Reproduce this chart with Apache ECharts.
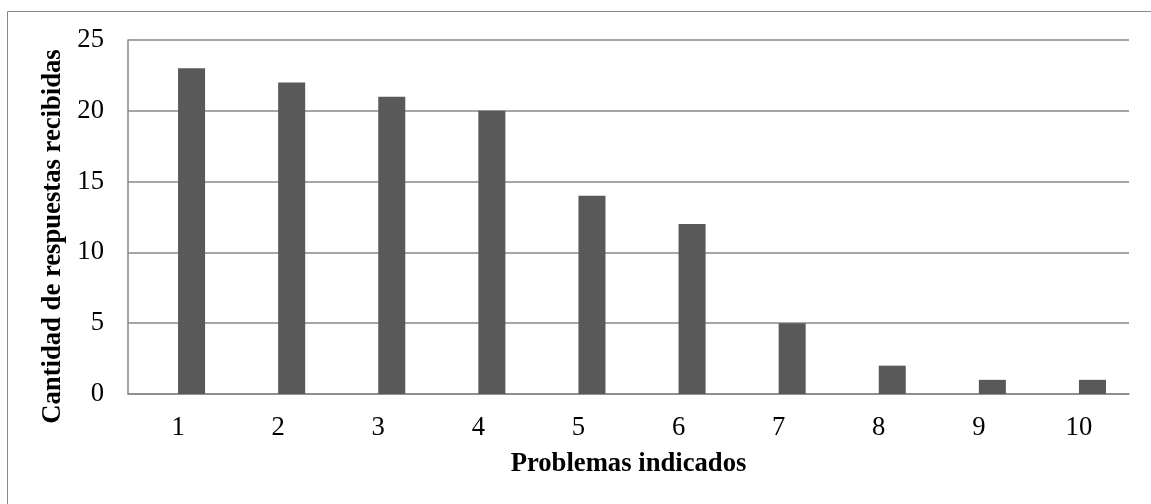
<!DOCTYPE html>
<html>
<head>
<meta charset="utf-8">
<script src="https://cdn.jsdelivr.net/npm/echarts@6/dist/echarts.min.js"></script>
<style>html,body{margin:0;padding:0;background:#fff;}#c{width:1151px;height:504px;}</style>
</head>
<body>
<div id="c"></div>
<script>
const categories = ['1','2','3','4','5','6','7','8','9','10'];
const respuestas = [23, 22, 21, 20, 14, 12, 5, 2, 1, 1];
const emptySeries = [null, null, null, null, null, null, null, null, null, null];
const yTicks = [0, 5, 10, 15, 20, 25];

const chart = echarts.init(document.getElementById('c'), null, {renderer: 'canvas'});
const font = '"Liberation Serif", "Times New Roman", serif';
const fs = 26.67;
chart.setOption({
  animation: false,
  backgroundColor: '#fff',
  graphic: [{
    type: 'rect', silent: true,
    shape: {x: 7.5, y: 11.5, width: 1200, height: 600},
    style: {fill: 'none', stroke: '#888', lineWidth: 1}
  }],
  grid: {left: 128, right: 22, top: 40, bottom: 110, containLabel: false},
  xAxis: {
    type: 'category',
    data: categories,
    name: 'Problemas indicados',
    nameLocation: 'middle',
    nameGap: 57,
    nameTextStyle: {fontFamily: font, fontSize: fs, fontWeight: 'bold', color: '#000'},
    axisLine: {show: true, lineStyle: {color: '#888', width: 1.5}},
    axisTick: {show: false},
    axisLabel: {fontFamily: font, fontSize: fs, color: '#000', margin: 20},
    splitLine: {show: false}
  },
  yAxis: {
    type: 'value',
    min: yTicks[0], max: yTicks[yTicks.length - 1], interval: 5,
    name: 'Cantidad de respuestas recibidas',
    nameLocation: 'middle',
    nameGap: 55,
    nameTextStyle: {fontFamily: font, fontSize: fs, fontWeight: 'bold', color: '#000', padding: [0, 39, 0, 0]},
    axisLine: {show: true, lineStyle: {color: '#888', width: 1.5}},
    axisTick: {show: false},
    axisLabel: {fontFamily: font, fontSize: fs, color: '#000', margin: 24},
    splitLine: {show: true, lineStyle: {color: '#888', width: 1.5}}
  },
  series: [
    {type: 'bar', data: emptySeries, barGap: '0%', barCategoryGap: '46%', itemStyle: {color: '#595959'}},
    {type: 'bar', data: respuestas, barGap: '0%', barCategoryGap: '46%', itemStyle: {color: '#595959'}}
  ]
});
</script>
</body>
</html>
